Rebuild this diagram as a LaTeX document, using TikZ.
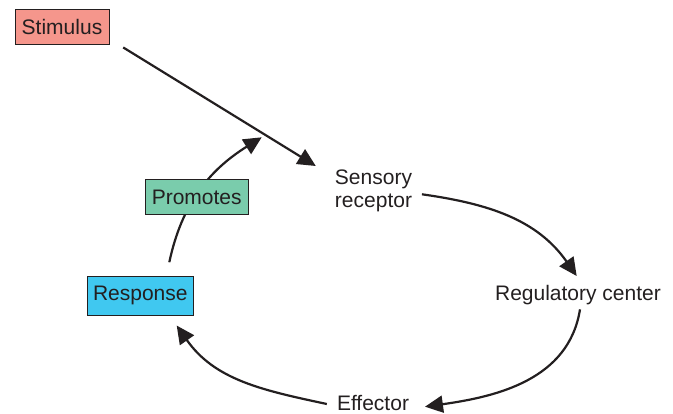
\documentclass[tikz,border=0pt]{standalone}
\usepackage{fontspec}
\setmainfont{Liberation Sans}
\usetikzlibrary{arrows.meta,positioning}
\definecolor{stimfill}{RGB}{245,150,140}
\definecolor{promfill}{RGB}{122,204,172}
\definecolor{respfill}{RGB}{64,200,240}
\definecolor{inkgray}{RGB}{35,31,32}
\tikzset{
  box/.style={draw=inkgray,line width=1pt,rectangle,inner sep=0pt,minimum height=35.5pt,text=inkgray},
  label/.style={inner sep=0pt,text=inkgray,align=left},
  flow/.style={-{Triangle[length=18pt,width=17pt]},line width=2.2pt,draw=inkgray}
}

\begin{document}
\begin{tikzpicture}[x=1pt,y=1pt,font=\fontsize{21}{23}\selectfont]
  \useasboundingbox (0,0) rectangle (673,414);
  \node[box,fill=stimfill,minimum width=94pt] (stim) at (62,386.8) {Stimulus};
  \node[label] (sens) at (373.5,223) {Sensory\\receptor};
  \node[label] (reg) at (578,118.5) {Regulatory center};
  \node[label,anchor=base] (eff) at (373,3.7) {Effector};
  \node[box,fill=respfill,minimum width=106pt,minimum height=39.3pt] (resp) at (140.3,118.3) {Response};
  \coordinate (promtip) at (261.7,276.7);
  % loop round
  \draw[flow] ([shift={(13.7,-2)}]stim.south east) -- ([shift={(-19,3.8)}]sens.north west);
  \draw[flow] ([shift={(9.7,-3.3)}]sens.east) to[out=-8,in=125] ([shift={(-1.3,9.5)}]reg.north);
  \draw[flow] ([shift={(2,-3.9)}]reg.south) to[out=-99,in=8] ([shift={(15.8,-3.9)}]eff.east);
  \draw[flow] ([shift={(-10,-1.2)}]eff.west) to[out=168,in=-55] ([shift={(36.4,-9.7)}]resp.south);
  \draw[flow] ([shift={(29,13.3)}]resp.north) to[out=78,in=212] (promtip);
  \node[box,fill=promfill,minimum width=103.3pt,minimum height=35pt] (prom) at (196.7,216.5) {Promotes};
\end{tikzpicture}
\end{document}
